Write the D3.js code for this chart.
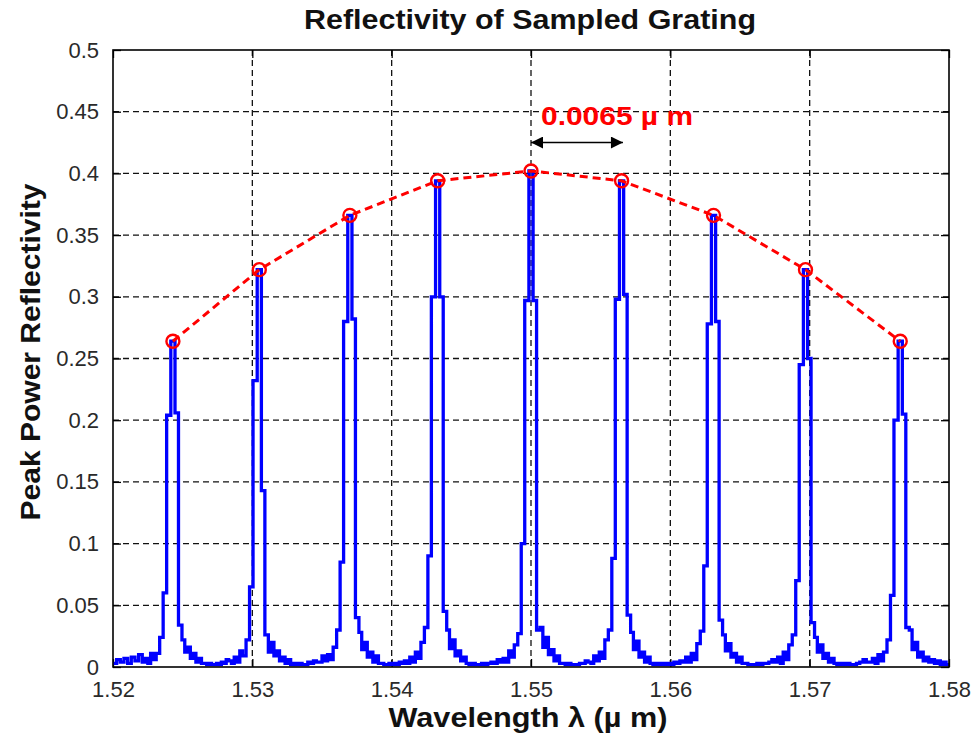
<!DOCTYPE html>
<html>
<head>
<meta charset="utf-8">
<script src="https://cdn.jsdelivr.net/npm/d3@7"></script>
<style>
  body { margin: 0; background: #fff; }
  text { font-family: "Liberation Sans", Arial, sans-serif; }
</style>
</head>
<body>
<div id="chart"></div>
<script>
// peak envelope (red circles)
const peakCenters = [1.5243, 1.5305, 1.5370, 1.5433, 1.5500, 1.5565, 1.5631, 1.5697, 1.5765];
const peakHeights = [0.264, 0.322, 0.366, 0.394, 0.402, 0.394, 0.366, 0.322, 0.264];

// sample offsets (x1e-4 um) around each peak, shared by every lobe
const lobeOffsets = [-22, -20, -18, -16, -14, -12, -9.5, -7, -4.5, -1.5, 1.5, 4, 6.5, 8.5, 10.5, 12.5, 14.5, 16.5, 18.5, 20.5].map(d => d * 1e-4);

// reflectivity read around each peak
const lobe1 = [0.004, 0.007, 0.003, 0.011, 0.006, 0.011, 0.024, 0.060, 0.204, 0.264, 0.206, 0.034, 0.022, 0.012, 0.016, 0.007, 0.011, 0.004, 0.007, 0.003];
const lobe2 = [0.005, 0.003, 0.008, 0.004, 0.013, 0.009, 0.022, 0.065, 0.232, 0.322, 0.143, 0.026, 0.012, 0.020, 0.009, 0.013, 0.005, 0.008, 0.003, 0.006];
const lobe3 = [0.004, 0.009, 0.005, 0.010, 0.006, 0.016, 0.030, 0.085, 0.280, 0.366, 0.282, 0.040, 0.028, 0.014, 0.020, 0.008, 0.012, 0.004, 0.009, 0.003];
const lobe4 = [0.003, 0.008, 0.004, 0.012, 0.007, 0.020, 0.032, 0.090, 0.300, 0.394, 0.300, 0.045, 0.030, 0.015, 0.022, 0.009, 0.013, 0.005, 0.008, 0.003];
const lobe5 = [0.004, 0.007, 0.004, 0.013, 0.008, 0.018, 0.027, 0.100, 0.297, 0.402, 0.297, 0.030, 0.032, 0.016, 0.024, 0.010, 0.014, 0.005, 0.009, 0.003];
const lobe6 = [0.003, 0.009, 0.005, 0.012, 0.007, 0.022, 0.030, 0.088, 0.298, 0.394, 0.302, 0.042, 0.028, 0.014, 0.021, 0.008, 0.012, 0.004, 0.008, 0.003];
const lobe7 = [0.004, 0.008, 0.004, 0.011, 0.006, 0.019, 0.029, 0.082, 0.278, 0.366, 0.280, 0.038, 0.026, 0.013, 0.019, 0.008, 0.011, 0.004, 0.008, 0.003];
const lobe8 = [0.004, 0.008, 0.003, 0.012, 0.006, 0.018, 0.026, 0.070, 0.245, 0.322, 0.250, 0.036, 0.024, 0.012, 0.018, 0.007, 0.011, 0.004, 0.007, 0.003];
const lobe9 = [0.004, 0.007, 0.003, 0.010, 0.005, 0.012, 0.022, 0.058, 0.200, 0.264, 0.205, 0.032, 0.030, 0.014, 0.020, 0.008, 0.012, 0.005, 0.008, 0.004];
const lobes = [lobe1, lobe2, lobe3, lobe4, lobe5, lobe6, lobe7, lobe8, lobe9];

// floor noise between the peaks
const floorHead = [0.003, 0.006, 0.004, 0.007, 0.003, 0.008, 0.005, 0.010];
const floorGap1 = [0.003, 0.002, 0.003, 0.002, 0.002, 0.003, 0.002, 0.004, 0.003, 0.006];
const floorGap2 = [0.002, 0.003, 0.002, 0.003, 0.002, 0.002, 0.004, 0.003, 0.005, 0.004];
const floorGap3 = [0.003, 0.002, 0.002, 0.003, 0.002, 0.003, 0.002, 0.004, 0.003, 0.005];
const floorGap4 = [0.002, 0.003, 0.002, 0.002, 0.003, 0.002, 0.003, 0.004, 0.003, 0.006];
const floorGap5 = [0.003, 0.002, 0.003, 0.002, 0.002, 0.002, 0.003, 0.003, 0.005, 0.004];
const floorGap6 = [0.002, 0.003, 0.002, 0.003, 0.002, 0.003, 0.002, 0.004, 0.003, 0.005];
const floorGap7 = [0.003, 0.002, 0.002, 0.002, 0.003, 0.002, 0.003, 0.003, 0.004, 0.006];
const floorGap8 = [0.002, 0.003, 0.002, 0.003, 0.002, 0.002, 0.003, 0.004, 0.006, 0.004];
const floorTail = [0.006, 0.003, 0.005, 0.002, 0.004, 0.002];
const floorGaps = [floorGap1, floorGap2, floorGap3, floorGap4, floorGap5, floorGap6, floorGap7, floorGap8];

const xTicks = [1.52, 1.53, 1.54, 1.55, 1.56, 1.57, 1.58];
const yTicks = [0, 0.05, 0.1, 0.15, 0.2, 0.25, 0.3, 0.35, 0.4, 0.45, 0.5];

const spacingFrom = 1.5500, spacingTo = 1.5566, spacingAt = 0.425;
const spacingLabel = "0.0065 \u00b5 m";

// build the blue trace
const spectrum = [];
function addFloor(vals, from, to) {
  const step = (to - from) / vals.length;
  vals.forEach((v, i) => spectrum.push([from + i * step, v]));
}
const firstOff = lobeOffsets[0], lastOff = lobeOffsets[lobeOffsets.length - 1];
addFloor(floorHead, 1.52, peakCenters[0] + firstOff);
peakCenters.forEach((c, k) => {
  lobeOffsets.forEach((o, i) => spectrum.push([c + o, lobes[k][i]]));
  if (k < floorGaps.length) addFloor(floorGaps[k], c + lastOff + 0.0002, peakCenters[k + 1] + firstOff);
});
addFloor(floorTail, peakCenters[8] + lastOff + 0.0002, 1.58);
spectrum.push([1.58, floorTail[floorTail.length - 1]]);

// layout
const W = 980, H = 742;
const margin = {top: 50, right: 31, bottom: 75, left: 113};
const width = W - margin.left - margin.right,
      height = H - margin.top - margin.bottom;

const svg = d3.select("#chart").append("svg")
  .attr("width", W).attr("height", H)
  .style("background", "#fff");

const g = svg.append("g").attr("transform", "translate(" + margin.left + "," + margin.top + ")");

const x = d3.scaleLinear().domain([1.52, 1.58]).range([0, width]);
const y = d3.scaleLinear().domain([0, 0.5]).range([height, 0]);

// grid
g.append("g").selectAll("line").data(xTicks.slice(1, -1)).enter().append("line")
  .attr("x1", d => x(d)).attr("x2", d => x(d)).attr("y1", 0).attr("y2", height)
  .attr("stroke", "#111").attr("stroke-width", 1.3).attr("stroke-dasharray", "6,4");
g.append("g").selectAll("line").data(yTicks.slice(1, -1)).enter().append("line")
  .attr("y1", d => y(d)).attr("y2", d => y(d)).attr("x1", 0).attr("x2", width)
  .attr("stroke", "#111").attr("stroke-width", 1.3).attr("stroke-dasharray", "6,4");

// axes with inward ticks
const tickFmt = d3.format("");
g.append("g").attr("transform", "translate(0," + height + ")")
  .call(d3.axisBottom(x).tickValues(xTicks).tickFormat(d => tickFmt(+d.toFixed(2))).tickSizeInner(-8).tickSizeOuter(0).tickPadding(14));
g.append("g")
  .call(d3.axisLeft(y).tickValues(yTicks).tickFormat(d => tickFmt(+d.toFixed(2))).tickSizeInner(-8).tickSizeOuter(0).tickPadding(14));
g.append("g").call(d3.axisTop(x).tickValues(xTicks).tickFormat("").tickSizeInner(-8).tickSizeOuter(0));
g.append("g").attr("transform", "translate(" + width + ",0)")
  .call(d3.axisRight(y).tickValues(yTicks).tickFormat("").tickSizeInner(-8).tickSizeOuter(0));
g.selectAll(".domain").remove();
g.selectAll(".tick line").attr("stroke", "#000").attr("stroke-width", 1.3);
g.selectAll(".tick text").attr("font-size", 22).attr("fill", "#2a2a2a")
  .style("font-family", '"Liberation Sans", Arial, sans-serif');

// clip
svg.append("clipPath").attr("id", "clip").append("rect")
  .attr("width", width).attr("height", height + 2).attr("y", -1);

// blue spectrum
const line = d3.line().x(d => x(d[0])).y(d => y(d[1])).curve(d3.curveStepAfter);
g.append("path").datum(spectrum)
  .attr("clip-path", "url(#clip)")
  .attr("d", line)
  .attr("fill", "none").attr("stroke", "#0000ff").attr("stroke-width", 3.3)
  .attr("stroke-linejoin", "miter");

// box
g.append("rect").attr("width", width).attr("height", height)
  .attr("fill", "none").attr("stroke", "#000").attr("stroke-width", 1.6);

// envelope
const peaks = peakCenters.map((c, i) => [c, peakHeights[i]]);
g.append("path").datum(peaks)
  .attr("d", d3.line().x(d => x(d[0])).y(d => y(d[1])))
  .attr("fill", "none").attr("stroke", "#ff0000").attr("stroke-width", 3)
  .attr("stroke-dasharray", "8,5");
g.selectAll(".pk").data(peaks).enter().append("circle")
  .attr("class", "pk")
  .attr("cx", d => x(d[0])).attr("cy", d => y(d[1])).attr("r", 6.5)
  .attr("fill", "none").attr("stroke", "#ff0000").attr("stroke-width", 2.4);

// spacing arrow
const defs = svg.append("defs");
defs.append("marker").attr("id", "ah").attr("viewBox", "0 0 10 10")
  .attr("refX", 10).attr("refY", 5).attr("markerWidth", 16).attr("markerHeight", 12)
  .attr("markerUnits", "userSpaceOnUse").attr("orient", "auto-start-reverse")
  .append("path").attr("d", "M0,0 L10,5 L0,10 z").attr("fill", "#000");
g.append("line")
  .attr("x1", x(spacingFrom)).attr("x2", x(spacingTo))
  .attr("y1", y(spacingAt)).attr("y2", y(spacingAt))
  .attr("stroke", "#000").attr("stroke-width", 1.6)
  .attr("marker-start", "url(#ah)").attr("marker-end", "url(#ah)");
g.append("text")
  .attr("x", x(spacingFrom) + 10).attr("y", y(0.439))
  .attr("fill", "#ff0000").attr("font-size", 26).attr("font-weight", "bold")
  .attr("textLength", 152).attr("lengthAdjust", "spacingAndGlyphs")
  .text(spacingLabel);

// titles
svg.append("text").attr("x", 530).attr("y", 29).attr("text-anchor", "middle")
  .attr("font-size", 27).attr("font-weight", "bold").attr("fill", "#111")
  .attr("textLength", 452).attr("lengthAdjust", "spacingAndGlyphs")
  .text("Reflectivity of Sampled Grating");
svg.append("text").attr("x", 528).attr("y", 727).attr("text-anchor", "middle")
  .attr("font-size", 27).attr("font-weight", "bold").attr("fill", "#111")
  .attr("textLength", 279).attr("lengthAdjust", "spacingAndGlyphs")
  .text("Wavelength \u03bb (\u00b5 m)");
svg.append("text").attr("transform", "translate(40,352) rotate(-90)").attr("text-anchor", "middle")
  .attr("font-size", 28).attr("font-weight", "bold").attr("fill", "#111")
  .attr("textLength", 337).attr("lengthAdjust", "spacingAndGlyphs")
  .text("Peak Power Reflectivity");
</script>
</body>
</html>
